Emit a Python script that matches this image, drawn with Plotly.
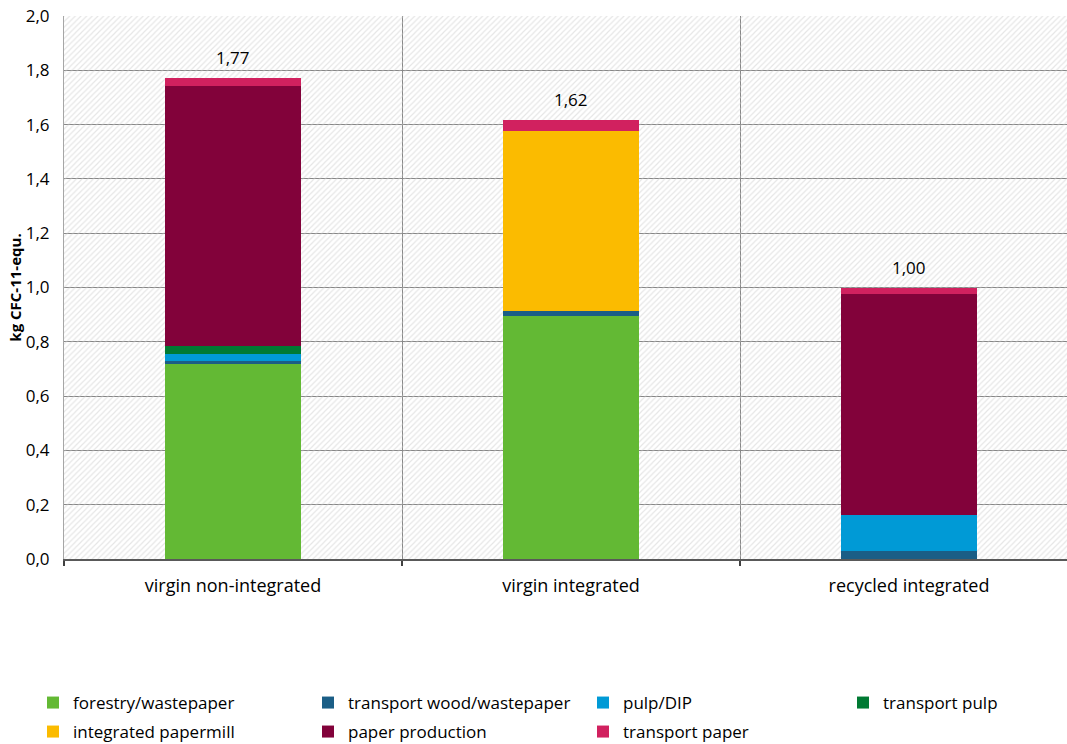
import plotly.graph_objects as go

categories = ["virgin non-integrated", "virgin integrated", "recycled integrated"]
forestry = [0.72, 0.896, 0.0]
transport_wood = [0.01, 0.016, 0.03]
pulp_dip = [0.025, 0.0, 0.133]
transport_pulp = [0.03, 0.0, 0.0]
integrated_papermill = [0.0, 0.663, 0.0]
paper_production = [0.957, 0.0, 0.813]
transport_paper = [0.028, 0.041, 0.024]

series = [
    ("forestry/wastepaper", forestry, "#63B934"),
    ("transport wood/wastepaper", transport_wood, "#1B5E86"),
    ("pulp/DIP", pulp_dip, "#009AD6"),
    ("transport pulp", transport_pulp, "#007A33"),
    ("integrated papermill", integrated_papermill, "#FBBB00"),
    ("paper production", paper_production, "#82023A"),
    ("transport paper", transport_paper, "#D1215F"),
]
# legend slot (column x in px, row y in px) for each series
legend_cols = [33, 308, 583, 843]
legend_rows = [703, 732]
legend_slots = [(0, 0), (1, 0), (2, 0), (3, 0), (0, 1), (1, 1), (2, 1)]

FONT = "'Open Sans', sans-serif"
W, H = 1067, 744
xpos = list(range(len(categories)))
xr = [-0.5, -0.5 + 1003 / 338]

fig = go.Figure()

# hatched plot background
fig.add_trace(go.Bar(
    x=[1], y=[2], width=[3], xaxis="x", yaxis="y",
    marker=dict(color="rgba(0,0,0,0)", line=dict(width=0),
                pattern=dict(shape="/", fgcolor="#cdcdcd", bgcolor="rgba(0,0,0,0)",
                             size=4, solidity=0.3)),
    showlegend=False, hoverinfo="skip",
))

legend_layouts = {}
for i, (name, vals, color) in enumerate(series):
    lg = "legend" if i == 0 else f"legend{i + 1}"
    fig.add_trace(go.Bar(
        x=xpos, y=vals, name=name, xaxis="x2", yaxis="y2", width=0.4,
        marker=dict(color=color, line=dict(width=0)), legend=lg,
    ))
    c, r = legend_slots[i]
    legend_layouts[lg] = dict(
        x=legend_cols[c] / W, y=(H - legend_rows[r]) / H,
        xref="container", yref="container", xanchor="left", yanchor="middle",
        orientation="h", font=dict(family=FONT, size=17, color="#000"),
        bgcolor="rgba(0,0,0,0)", borderwidth=0, itemclick=False,
    )

totals = [sum(v) for v in zip(*[s[1] for s in series])]
for i, t in enumerate(totals):
    fig.add_annotation(x=xpos[i], y=t, xref="x2", yref="y2",
                       text=f"{t:.2f}".replace(".", ","), showarrow=False,
                       yanchor="bottom", yshift=7,
                       font=dict(family=FONT, size=17, color="#000"))

fig.update_layout(
    width=W, height=H,
    margin=dict(l=64, r=0, t=16, b=185, autoexpand=False),
    plot_bgcolor="white", paper_bgcolor="white",
    barmode="stack", separators=",.",
    font=dict(family=FONT, size=17, color="#000"),
    xaxis=dict(type="linear", range=xr, tickvals=[-0.5, 0.5, 1.5], automargin=False,
               showgrid=True, gridcolor="#868686", gridwidth=1,
               showticklabels=False, ticks="outside", ticklen=5, tickwidth=2,
               tickcolor="#404040", showline=True, linecolor="#595959",
               linewidth=2, zeroline=False, fixedrange=True),
    xaxis2=dict(type="linear", range=xr, overlaying="x", anchor="y2", side="bottom",
                tickvals=xpos, ticktext=categories, showgrid=False, automargin=False,
                ticks="outside", ticklen=10, tickcolor="rgba(0,0,0,0)",
                showline=False, zeroline=False,
                tickfont=dict(family=FONT, size=18, color="#000")),
    yaxis=dict(range=[0, 2], dtick=0.2, tickformat=".1f", showgrid=True, automargin=False,
               gridcolor="#868686", gridwidth=1, showline=True, linecolor="#a6a6a6",
               linewidth=1, zeroline=False, ticks="outside", ticklen=10,
               tickcolor="rgba(0,0,0,0)",
               tickfont=dict(family=FONT, size=17, color="#000"),
               title=dict(text="<b>kg CFC-11-equ.</b>", standoff=0,
                          font=dict(family=FONT, size=15, color="#000"))),
    yaxis2=dict(range=[0, 2], overlaying="y", anchor="x2", visible=False, automargin=False),
    **legend_layouts,
)

fig.write_html("out.html", config={"displayModeBar": False},
               post_script="document.body.style.margin='0';")
